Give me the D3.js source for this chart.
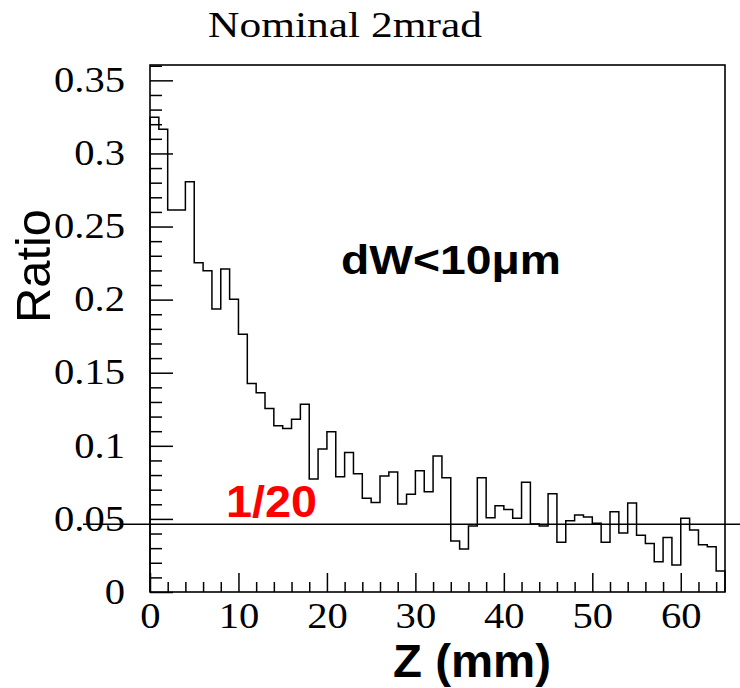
<!DOCTYPE html>
<html>
<head>
<meta charset="utf-8">
<script src="https://cdn.jsdelivr.net/npm/d3@7/dist/d3.min.js"></script>
<style>
  html, body { margin: 0; padding: 0; background: #fff; }
  svg { display: block; }
</style>
</head>
<body>
<svg id="chart" width="740" height="688"></svg>
<script>
// ---------------- data ----------------
const title = "Nominal 2mrad";
const xTitle = "Z (mm)";
const yTitle = "Ratio";
const cutLabel = "dW<10\u03bcm";
const refLabel = "1/20";
const refValue = 0.0463;

const binStart = 0;     // mm
const binWidth = 1;     // mm
const ratioValues = [
  0.3247, 0.3165, 0.2613, 0.2613, 0.2807, 0.2253, 0.2198, 0.1936, 0.2209, 0.2002,
  0.1763, 0.1427, 0.1363, 0.1256, 0.1138, 0.1119, 0.1181, 0.1284, 0.0773, 0.0978,
  0.1097, 0.0789, 0.0955, 0.0809, 0.0641, 0.0613, 0.0793, 0.0821, 0.0602, 0.0668,
  0.0830, 0.0686, 0.0930, 0.0782, 0.0349, 0.0294, 0.0451, 0.0782, 0.0508, 0.0590,
  0.0565, 0.0504, 0.0750, 0.0465, 0.0451, 0.0672, 0.0340, 0.0488, 0.0527, 0.0513,
  0.0470, 0.0340, 0.0549, 0.0404, 0.0609, 0.0388, 0.0331, 0.0207, 0.0372, 0.0185,
  0.0504, 0.0424, 0.0324, 0.0310, 0.0144
];

const xDomain = [0, 65];
const yDomain = [0, 0.3605];
const xMajorTicks = [0, 10, 20, 30, 40, 50, 60];
const xMajorLabels = ["0", "10", "20", "30", "40", "50", "60"];
const xMinorTicks = [2,4,6,8,12,14,16,18,22,24,26,28,32,34,36,38,42,44,46,48,52,54,56,58,62,64];
const yMajorTicks = [0, 0.05, 0.1, 0.15, 0.2, 0.25, 0.3, 0.35];
const yMajorLabels = ["0", "0.05", "0.1", "0.15", "0.2", "0.25", "0.3", "0.35"];
const yMinorTicks = [0.01,0.02,0.03,0.04,0.06,0.07,0.08,0.09,0.11,0.12,0.13,0.14,
  0.16,0.17,0.18,0.19,0.21,0.22,0.23,0.24,0.26,0.27,0.28,0.29,0.31,0.32,0.33,0.34,0.36];

// ---------------- layout ----------------
const L = 150, R = 725, T = 65, B = 592;
const SERIF = "'Liberation Serif', 'Times New Roman', serif";
const SANS = "'Liberation Sans', Arial, Helvetica, sans-serif";
const labelStretch = 1.16;
const labelSize = 35;

const svg = d3.select("#chart");
const x = d3.scaleLinear().domain(xDomain).range([L, R]);
const y = d3.scaleLinear().domain(yDomain).range([B, T]);

// helper: place text, fitting to a target width via horizontal scale
function fitText(str, cx, baseline, opts) {
  const g = svg.append("g");
  const t = g.append("text")
    .text(str)
    .attr("font-family", opts.family)
    .attr("font-size", opts.size)
    .attr("font-weight", opts.weight || "normal")
    .attr("fill", opts.fill || "#000")
    .attr("text-anchor", "middle");
  const len = t.node().getComputedTextLength();
  const sx = opts.width ? opts.width / len : 1;
  const rot = opts.rotate ? ` rotate(${opts.rotate})` : "";
  g.attr("transform", `translate(${cx},${baseline})${rot} scale(${sx},1)`);
  return t;
}

// ---------------- histogram ----------------
const pts = [];
pts.push([binStart, 0]);
ratioValues.forEach((v, i) => {
  const x0 = binStart + i * binWidth;
  pts.push([x0, v]);
  pts.push([x0 + binWidth, v]);
});
pts.push([binStart + ratioValues.length * binWidth, 0]);

const line = d3.line().x(d => x(d[0])).y(d => y(d[1]));
svg.append("path")
  .attr("d", line(pts))
  .attr("fill", "none")
  .attr("stroke", "#000")
  .attr("stroke-width", 1.5);

// ---------------- axes ----------------
const yAxisMajor = d3.axisLeft(y)
  .tickValues(yMajorTicks)
  .tickSize(-23)
  .tickPadding(25)
  .tickFormat((d, i) => yMajorLabels[i]);
const gy = svg.append("g").attr("transform", `translate(${L},0)`).call(yAxisMajor);
gy.select(".domain").remove();
gy.selectAll(".tick line").attr("stroke", "#000").attr("stroke-width", 1.5);
gy.selectAll(".tick text")
  .attr("font-family", SERIF)
  .attr("font-size", labelSize)
  .attr("fill", "#000")
  .attr("x", -25 / labelStretch)
  .attr("transform", `scale(${labelStretch},1)`);

const yAxisMinor = d3.axisLeft(y).tickValues(yMinorTicks).tickSize(-12).tickFormat("");
const gym = svg.append("g").attr("transform", `translate(${L},0)`).call(yAxisMinor);
gym.select(".domain").remove();
gym.selectAll(".tick line").attr("stroke", "#000").attr("stroke-width", 1.5);

const xAxisMajor = d3.axisBottom(x)
  .tickValues(xMajorTicks)
  .tickSize(-19)
  .tickPadding(10)
  .tickFormat((d, i) => xMajorLabels[i]);
const gx = svg.append("g").attr("transform", `translate(0,${B})`).call(xAxisMajor);
gx.select(".domain").remove();
gx.selectAll(".tick line").attr("stroke", "#000").attr("stroke-width", 1.5);
gx.selectAll(".tick text")
  .attr("font-family", SERIF)
  .attr("font-size", labelSize)
  .attr("fill", "#000")
  .attr("y", 36)
  .attr("dy", 0)
  .attr("transform", `scale(${labelStretch},1)`);

const xAxisMinor = d3.axisBottom(x).tickValues(xMinorTicks).tickSize(-10).tickFormat("");
const gxm = svg.append("g").attr("transform", `translate(0,${B})`).call(xAxisMinor);
gxm.select(".domain").remove();
gxm.selectAll(".tick line").attr("stroke", "#000").attr("stroke-width", 1.5);

// frame
svg.append("rect")
  .attr("x", L).attr("y", T)
  .attr("width", R - L).attr("height", B - T)
  .attr("fill", "none")
  .attr("stroke", "#000")
  .attr("stroke-width", 1.6);

// reference line
svg.append("line")
  .attr("x1", 83).attr("x2", 740)
  .attr("y1", y(refValue)).attr("y2", y(refValue))
  .attr("stroke", "#000")
  .attr("stroke-width", 1.6);

// ---------------- texts ----------------
fitText(title, 345, 37, { family: SERIF, size: 35, width: 274 });
fitText(cutLabel, 451, 274, { family: SANS, size: 41, weight: "bold", width: 220 });
fitText(refLabel, 271.5, 517, { family: SANS, size: 44, weight: "bold", fill: "#ff0000", width: 91 });
fitText(yTitle, 50, 266, { family: SANS, size: 49, rotate: -90, width: 114 });
fitText(xTitle, 472, 677, { family: SANS, size: 46, weight: "bold", width: 158 });
</script>
</body>
</html>
